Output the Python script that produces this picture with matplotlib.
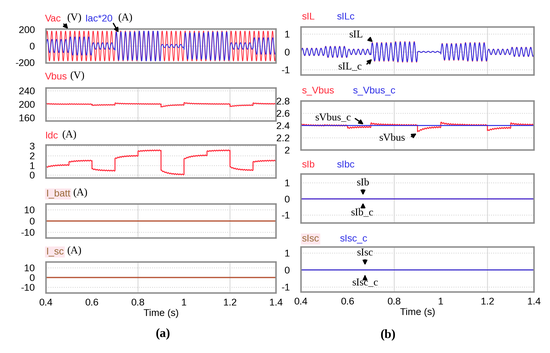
import io
import matplotlib
matplotlib.use("Agg")
import matplotlib.pyplot as plt
import numpy as np
from PIL import Image

plt.rcParams["axes.unicode_minus"] = False
plt.rcParams["path.simplify"] = False

# segment edges of the load profile (s)
seg_edges = [0.4, 0.5, 0.6, 0.7, 0.8, 0.9, 1.0, 1.1, 1.2, 1.3, 1.4]

# Idc level at the start / end of every segment (A)
idc_start = [0.80, 1.35, 0.65, 1.70, 2.45, 0.50, 1.65, 2.45, 0.85, 1.35]
idc_end = [1.05, 1.50, 0.45, 2.00, 2.55, 0.05, 2.05, 2.55, 0.50, 1.50]

# Vbus level at the start / end of every segment (V)
vbus_start = [201.5, 200.5, 196.5, 203.0, 201.0, 191.5, 204.0, 201.0, 193.0, 203.0]
vbus_end = [200.0, 200.0, 198.0, 201.0, 200.5, 198.0, 201.0, 200.5, 197.0, 201.0]

# Iac*20 peak per segment (A) and normalised sIL peak per segment
iac_amp = [80, 110, 40, 170, 180, 20, 160, 170, 40, 100]
sil_amp = [0.20, 0.30, 0.15, 0.50, 0.55, 0.03, 0.45, 0.50, 0.15, 0.25]

vac_peak = 180.0   # V
f_grid = 50.0      # Hz
vbus_ref = 2.4     # s_Vbus_c
vbus_base = 200.0 / 2.4

t = np.linspace(0.4, 1.4, 8001)


def settle(start, end, tau):
    out = np.zeros_like(t)
    for k in range(len(start)):
        m = (t >= seg_edges[k]) & (t <= seg_edges[k + 1])
        out[m] = end[k] + (start[k] - end[k]) * np.exp(-(t[m] - seg_edges[k]) / tau)
    return out


def steps(vals):
    out = np.zeros_like(t)
    for k in range(len(vals)):
        m = (t >= seg_edges[k]) & (t <= seg_edges[k + 1])
        out[m] = vals[k]
    return out


w = 2 * np.pi * f_grid
vac = vac_peak * np.sin(w * t)
iac = steps(iac_amp) * np.sin(w * t - 0.3)
idc = settle(idc_start, idc_end, 0.03) + 0.04 * np.sin(2 * w * t)
vbus = settle(vbus_start, vbus_end, 0.03) + 0.7 * np.sin(2 * w * t)
s_vbus = vbus / vbus_base
s_il = steps(sil_amp) * np.sin(w * t - 0.3)
zero = np.zeros_like(t)

RED = "#ff2a3a"
BLUE = "#2f2fe6"
BROWN = "#b8583a"
W, H = 550, 353

fig = plt.figure(figsize=(5.5, 3.53), dpi=100)


def box(x0, y0, x1, y1):
    return [x0 / W, 1 - y1 / H, (x1 - x0) / W, (y1 - y0) / H]


def style(ax, ylim, yticks, ylabels=None, bottom=False):
    ax.set_xlim(0.4, 1.4)
    ax.set_ylim(*ylim)
    ax.set_yticks(yticks)
    if ylabels is not None:
        ax.set_yticklabels(ylabels)
    ax.set_xticks([0.4, 0.6, 0.8, 1.0, 1.2, 1.4])
    if bottom:
        ax.set_xticklabels(["0.4", "0.6", "0.8", "1", "1.2", "1.4"])
        ax.set_xlabel("Time (s)", fontsize=7, labelpad=1, family="Liberation Sans")
    else:
        ax.set_xticklabels([])
    ax.tick_params(length=0, labelsize=7, pad=8)
    ax.tick_params(axis="x", pad=4)
    for lab in ax.get_xticklabels() + ax.get_yticklabels():
        lab.set_family("Liberation Sans")
    for s in ax.spines.values():
        s.set_color("#8a8a8a")
        s.set_linewidth(1.0)
    ax.grid(axis="y", color="#d4d4d4", ls=":", lw=0.6)
    for xv in (0.8, 1.2):
        ax.axvline(xv, color="#dcdcdc", lw=0.7, zorder=0)


def ftext(x, y, s, **kw):
    fig.text(x / W, 1 - y / H, s, va="center", **kw)


def sans(x, y, s, color, bg=None):
    kw = dict(fontsize=7, color=color, family="Liberation Sans")
    if bg:
        kw["bbox"] = dict(boxstyle="square,pad=0.1", fc=bg, ec="none")
    ftext(x, y, s, **kw)


def serif(x, y, s, size=7.5, **kw):
    ftext(x, y, s, fontsize=size, family="Liberation Serif", **kw)


def arrow(x0, y0, x1, y1):
    fig.add_artist(matplotlib.patches.FancyArrowPatch(
        (x0 / W, 1 - y0 / H), (x1 / W, 1 - y1 / H), transform=fig.transFigure,
        arrowstyle="-|>,head_length=2.6,head_width=1.3", color="black", lw=0.9))


# ---- left column (a)
ax = fig.add_axes(box(46, 29, 276, 63))
ax.plot(t, vac, color=RED, lw=0.55)
ax.plot(t, iac, color=BLUE, lw=0.55)
style(ax, (-205, 205), [-200, 0, 200])
sans(45, 19, "Vac", RED)
serif(67, 18, "(V)")
sans(85, 19, "Iac*20", BLUE)
serif(118, 18, "(A)")
arrow(62, 22, 70, 31)
arrow(112, 21, 120, 35)

ax = fig.add_axes(box(46, 88, 276, 121))
ax.plot(t, vbus, color=RED, lw=0.7)
style(ax, (150, 248), [160, 200, 240])
sans(45, 77, "Vbus", RED)
serif(70, 76, "(V)")

ax = fig.add_axes(box(46, 145, 276, 178))
ax.plot(t, idc, color=RED, lw=0.7)
style(ax, (-0.3, 3.1), [0, 1, 2, 3])
sans(45, 136, "Idc", RED)
serif(62, 135, "(A)")

ax = fig.add_axes(box(46, 204, 276, 238))
ax.plot(t, zero, color=BROWN, lw=0.9)
style(ax, (-15, 15), [-10, 0, 10])
sans(46, 194, "I_batt", "#9a6a3a", bg="#fde6ec")
serif(73, 193, "(A)")

ax = fig.add_axes(box(46, 262, 276, 293))
ax.plot(t, zero, color=BROWN, lw=0.9)
style(ax, (-16, 16), [-10, 0, 10], bottom=True)
sans(46, 252, "I_sc", "#9a6a3a", bg="#fde6ec")
serif(67, 251, "(A)")

# ---- right column (b)
ax = fig.add_axes(box(301, 27, 534, 75))
ax.plot(t, s_il * 1.05, color=RED, lw=0.6)
ax.plot(t, s_il, color=BLUE, lw=0.6)
style(ax, (-1.3, 1.4), [-1, 0, 1])
sans(302, 17, "sIL", RED)
sans(337, 17, "sILc", BLUE)
serif(349, 35, "sIL")
arrow(367, 37, 375, 44)
serif(338, 67, "sIL_c")
arrow(365, 66, 374, 57)

ax = fig.add_axes(box(301, 101, 534, 150))
ax.plot(t, s_vbus, color=RED, lw=0.7)
ax.plot(t, zero + vbus_ref, color=BLUE, lw=0.7)
style(ax, (2.0, 2.8), [2.0, 2.2, 2.4, 2.6, 2.8], ["2", "2.2", "2.4", "2.6", "2.8"])
sans(302, 91, "s_Vbus", RED)
sans(353, 91, "s_Vbus_c", BLUE)
serif(315, 118, "sVbus_c")
arrow(353, 117, 366, 126)
serif(379, 138, "sVbus")
arrow(409, 138, 419, 132)

ax = fig.add_axes(box(301, 174, 534, 223))
ax.plot(t, zero, color=RED, lw=0.8)
ax.plot(t, zero, color=BLUE, lw=0.7)
style(ax, (-1.5, 1.55), [-1, 0, 1])
sans(302, 165, "sIb", RED)
sans(337, 165, "sIbc", BLUE)
serif(363, 183, "sIb", ha="center")
arrow(363, 187, 363, 198)
serif(362, 213, "sIb_c", ha="center")
arrow(363, 209, 363, 200)

ax = fig.add_axes(box(301, 247, 534, 292))
ax.plot(t, zero, color=BROWN, lw=0.8)
ax.plot(t, zero, color=BLUE, lw=0.7)
style(ax, (-1.3, 1.35), [-1, 0, 1], bottom=True)
sans(302, 239, "sIsc", "#9a6a3a", bg="#fde6ec")
sans(340, 239, "sIsc_c", BLUE)
serif(365, 253, "sIsc", ha="center")
arrow(365, 257, 365, 268)
serif(365, 283, "sIsc_c", ha="center")
arrow(365, 279, 365, 272)

serif(163, 334, "(a)", size=9, weight="bold", ha="center")
serif(388, 335, "(b)", size=9, weight="bold", ha="center")

# render at 4x and downsample so the dense 50 Hz traces blend like the original
buf = io.BytesIO()
fig.savefig(buf, dpi=400, format="png")
buf.seek(0)
img = Image.open(buf).convert("RGB").resize((W, H), Image.LANCZOS)
img.save("out.png")
